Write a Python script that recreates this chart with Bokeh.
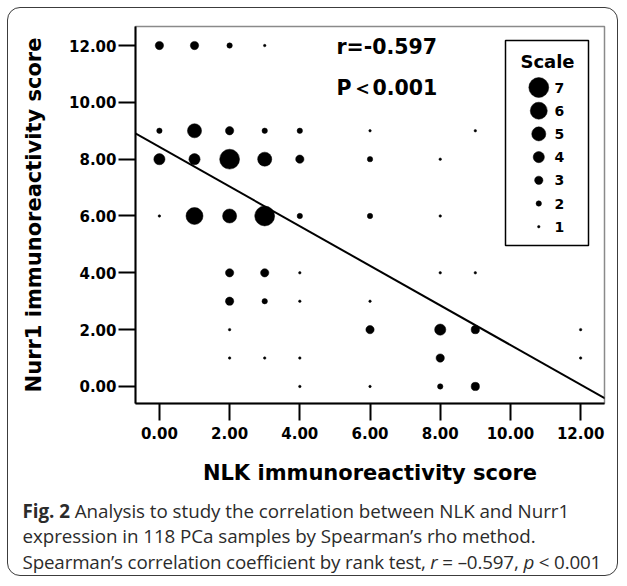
from bokeh.plotting import figure
from bokeh.layouts import column
from bokeh.models import Range1d, FixedTicker, Label, BoxAnnotation, ColumnDataSource, Slope, Div
from bokeh.embed import file_html
from bokeh.resources import INLINE

# ---------------- data ----------------
nlk_score = [0, 1, 2, 3,
             0, 1, 2, 3, 4, 6, 9,
             0, 1, 2, 3, 4, 6, 8,
             0, 1, 2, 3, 4, 6, 8,
             2, 3, 4, 8, 9,
             2, 3, 4, 6,
             2, 6, 8, 9, 12,
             2, 3, 4, 8, 12,
             4, 6, 8, 9]
nurr1_score = [12, 12, 12, 12,
               9, 9, 9, 9, 9, 9, 9,
               8, 8, 8, 8, 8, 8, 8,
               6, 6, 6, 6, 6, 6, 6,
               4, 4, 4, 4, 4,
               3, 3, 3, 3,
               2, 2, 2, 2, 2,
               1, 1, 1, 1, 1,
               0, 0, 0, 0]
case_count = [3, 3, 2, 1,
              2, 5, 3, 2, 2, 1, 1,
              4, 4, 7, 5, 3, 2, 1,
              1, 6, 5, 7, 2, 2, 1,
              3, 3, 1, 1, 1,
              3, 2, 1, 1,
              1, 3, 4, 3, 1,
              1, 1, 1, 3, 1,
              1, 1, 2, 3]
scale_levels = [7, 6, 5, 4, 3, 2, 1]
fit_intercept = 8.43
fit_slope = -0.697
x_ticks = [0, 2, 4, 6, 8, 10, 12]
x_tick_labels = ["0.00", "2.00", "4.00", "6.00", "8.00", "10.00", "12.00"]
y_ticks = [0, 2, 4, 6, 8, 10, 12]
y_tick_labels = ["0.00", "2.00", "4.00", "6.00", "8.00", "10.00", "12.00"]
stat_r = "r=-0.597"
stat_p = "P\uff1c0.001"
x_title = "NLK immunoreactivity score"
y_title = "Nurr1 immunoreactivity score"
legend_title = "Scale"
caption_lines = [
    "<b>Fig. 2</b> Analysis to study the correlation between NLK and Nurr1",
    "expression in 118 PCa samples by Spearman\u2019s rho method.",
    "Spearman\u2019s correlation coefficient by rank test, <i>r</i> = \u20130.597, "
    "<i>p</i> &lt; 0.001",
]

# ---------------- layout (page pixel coordinates) ----------------
ORG = 8                      # page origin of the card content
W = 611
H_MAIN = 490                 # page 8 .. 498
H_CAP = 79
X0, X1 = -0.681, 12.68
Y0, Y1 = -0.60, 12.67
FL, FR, FT, FB = 135, 606, 26, 403      # frame edges in page pixels


def dot_size(n):
    return 2.9 * n - 0.4


def sx(px):
    return px - FL


def sy(py):
    return FB - py


def dx(px):
    return X0 + (px - FL) / (FR - FL) * (X1 - X0)


def dy(py):
    return Y0 + (FB - py) / (FB - FT) * (Y1 - Y0)


p = figure(width=W, height=H_MAIN, x_range=Range1d(X0, X1), y_range=Range1d(Y0, Y1),
           output_backend="svg", toolbar_location=None,
           min_border_left=FL - ORG, min_border_right=ORG + W - FR,
           min_border_top=FT - ORG, min_border_bottom=ORG + H_MAIN - FB)
p.border_fill_color = None
p.background_fill_color = "white"
p.outline_line_color = "#8a8a8a"
p.outline_line_width = 1.5
p.xgrid.visible = False
p.ygrid.visible = False

for ax, ticks, labels in ((p.xaxis[0], x_ticks, x_tick_labels), (p.yaxis[0], y_ticks, y_tick_labels)):
    ax.ticker = FixedTicker(ticks=ticks)
    ax.major_label_overrides = {t: l for t, l in zip(ticks, labels)}
    ax.axis_line_color = "black"
    ax.axis_line_width = 2
    ax.major_tick_line_color = "black"
    ax.major_tick_line_width = 2
    ax.major_tick_in = 0
    ax.major_tick_out = 17
    ax.minor_tick_line_color = None
    ax.major_label_text_font = "DejaVu Sans"
    ax.major_label_text_font_style = "bold"
    ax.major_label_text_font_size = "15px"
    ax.major_label_text_color = "black"
    ax.axis_label_text_font = "DejaVu Sans"
    ax.axis_label_text_font_style = "bold"
    ax.axis_label_text_font_size = "21px"
    ax.axis_label_text_color = "black"

p.xaxis.axis_label = x_title
p.yaxis.axis_label = y_title
p.xaxis.major_label_standoff = 6
p.xaxis.axis_label_standoff = 19
p.yaxis.major_label_standoff = 2
p.yaxis.axis_label_standoff = 20

src = ColumnDataSource(dict(x=nlk_score, y=nurr1_score,
                            s=[dot_size(n) for n in case_count]))
p.scatter("x", "y", size="s", source=src, marker="circle",
          fill_color="black", line_color="black", line_width=0.5)

p.add_layout(Slope(gradient=fit_slope, y_intercept=fit_intercept,
                   line_color="black", line_width=2))

# statistics text
for txt, py in ((stat_r, 46), (stat_p, 87)):
    p.add_layout(Label(x=sx(336), y=sy(py), x_units="screen", y_units="screen", text=txt,
                       text_font="DejaVu Sans", text_font_style="bold", text_font_size="20.5px",
                       text_baseline="middle", text_color="black"))

# size legend
p.add_layout(BoxAnnotation(left=sx(505), right=sx(588), top=sy(40), bottom=sy(245),
                           left_units="screen", right_units="screen",
                           top_units="screen", bottom_units="screen",
                           fill_alpha=0, line_color="black", line_alpha=1.0, line_width=1.5))
p.add_layout(Label(x=sx(547), y=sy(61), x_units="screen", y_units="screen", text=legend_title,
                   text_font="DejaVu Sans", text_font_style="bold", text_font_size="18px",
                   text_align="center", text_baseline="middle", text_color="black"))
row_py = [87 + 23.2 * i for i in range(len(scale_levels))]
p.scatter(x=[dx(540)] * len(scale_levels), y=[dy(v) for v in row_py],
          size=[dot_size(n) for n in scale_levels], marker="circle",
          fill_color="black", line_color="black", line_width=0.5)
for n, py in zip(scale_levels, row_py):
    p.add_layout(Label(x=sx(554), y=sy(py), x_units="screen", y_units="screen", text=str(n),
                       text_font="DejaVu Sans", text_font_style="bold", text_font_size="14px",
                       text_baseline="middle", text_color="black"))

# ---------------- caption (real HTML text) ----------------
spacing_px = ["-0.04px", "-0.06px", "-0.16px"]
inner = "".join(f'<div style="letter-spacing:{ls}; white-space:nowrap;">{t}</div>'
                for t, ls in zip(caption_lines, spacing_px))
caption_html = (f'<div style="padding-left:10px; margin-top:-4px; '
                f'font-family:\'Open Sans\', sans-serif; '
                f'font-size:18.8px; line-height:25.5px; color:#2b2b2b;">{inner}</div>')
cap = Div(text=caption_html, width=W, height=H_CAP)

layout = column(p, cap, spacing=0, width=W, height=H_MAIN + H_CAP,
                styles={"border": "1.5px solid #3c3c3c", "border-radius": "13px",
                        "margin": "6.5px 0 0 6.5px", "overflow": "visible"})

open("out.html", "w").write(file_html(layout, INLINE))
